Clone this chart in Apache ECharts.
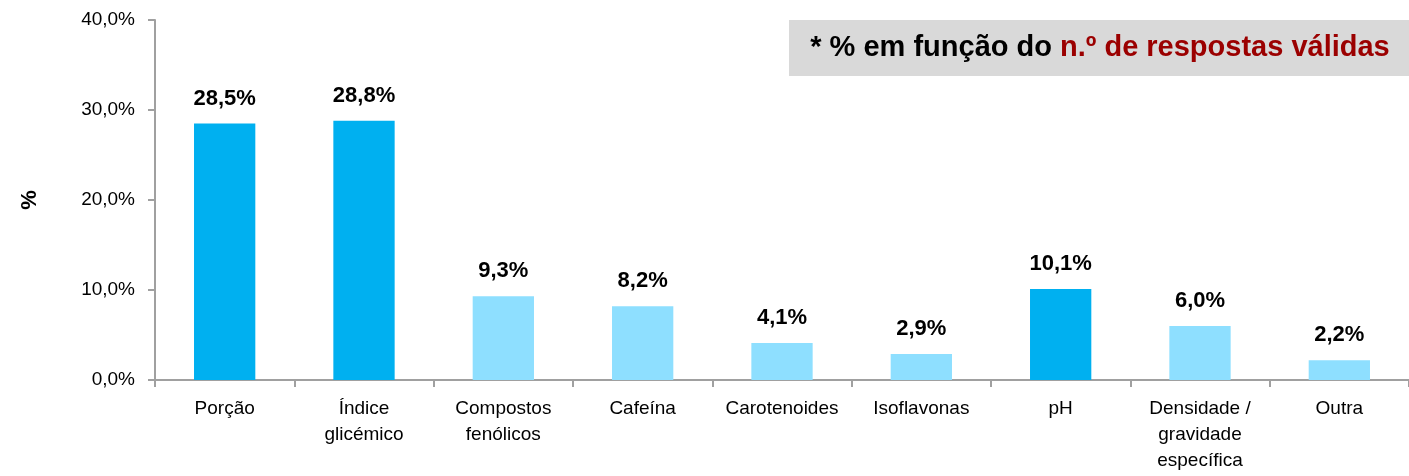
<!DOCTYPE html>
<html>
<head>
<meta charset="utf-8">
<script src="https://cdn.jsdelivr.net/npm/echarts@6/dist/echarts.min.js"></script>
<style>
    html, body { margin: 0; padding: 0; background: #fff; }
    #chart { width: 1409px; height: 476px; }
</style>
</head>
<body>
<div id="chart"></div>
<script>
var categories = ['Porção', 'Índice\nglicémico', 'Compostos\nfenólicos', 'Cafeína', 'Carotenoides', 'Isoflavonas', 'pH', 'Densidade /\ngravidade\nespecífica', 'Outra'];
var values = [28.5, 28.8, 9.3, 8.2, 4.1, 2.9, 10.1, 6.0, 2.2];
var highlighted = [true, true, false, false, false, false, true, false, false];
var yTicks = [0, 10, 20, 30, 40];

var darkBlue = '#00B0F0';
var lightBlue = '#8EDFFF';
var font = '"Liberation Sans", Arial, sans-serif';

var chart = echarts.init(document.getElementById('chart'));

var option = {
    animation: false,
    grid: {
        left: 155,
        right: 0,
        top: 20,
        bottom: 96
    },
    xAxis: {
        type: 'category',
        data: categories,
        axisLine: { lineStyle: { color: '#a0a0a0', width: 2 } },
        axisTick: { show: true, length: 7, inside: false, lineStyle: { color: '#a0a0a0', width: 2 } },
        axisLabel: {
            color: '#000',
            fontFamily: font,
            fontSize: 19,
            lineHeight: 26,
            margin: 16,
            interval: 0
        }
    },
    yAxis: {
        type: 'value',
        min: yTicks[0],
        max: yTicks[yTicks.length - 1],
        interval: 10,
        name: '%',
        nameLocation: 'middle',
        nameGap: 114,
        nameRotate: 90,
        nameTextStyle: { color: '#000', fontFamily: font, fontSize: 22, fontWeight: 'bold' },
        axisLine: { show: true, lineStyle: { color: '#a0a0a0', width: 2 } },
        axisTick: { show: true, length: 7, lineStyle: { color: '#a0a0a0', width: 2 } },
        splitLine: { show: false },
        axisLabel: {
            color: '#000',
            fontFamily: font,
            fontSize: 19,
            margin: 20,
            formatter: function (v) { return v.toFixed(1).replace('.', ',') + '%'; }
        }
    },
    series: [{
        type: 'bar',
        barWidth: '44%',
        data: values.map(function (v, i) {
            return { value: v, itemStyle: { color: highlighted[i] ? darkBlue : lightBlue } };
        }),
        label: {
            show: true,
            position: 'top',
            distance: 14,
            color: '#000',
            fontFamily: font,
            fontSize: 22,
            fontWeight: 'bold',
            formatter: function (p) { return p.value.toFixed(1).replace('.', ',') + '%'; }
        }
    }],
    graphic: [{
        type: 'group',
        left: 789,
        top: 20,
        children: [{
            type: 'rect',
            shape: { x: 0, y: 0, width: 620, height: 56 },
            style: { fill: '#D9D9D9' }
        }, {
            type: 'text',
            x: 311,
            y: 28,
            style: {
                text: '{a|* % em função do }{b|n.º de respostas válidas}',
                align: 'center',
                verticalAlign: 'middle',
                rich: {
                    a: { fontFamily: font, fontSize: 29, fontWeight: 'bold', fill: '#000' },
                    b: { fontFamily: font, fontSize: 29, fontWeight: 'bold', fill: '#9B0000' }
                }
            }
        }]
    }]
};

chart.setOption(option);
window.addEventListener('resize', function () {
    chart.resize();
});
</script>
</body>
</html>
